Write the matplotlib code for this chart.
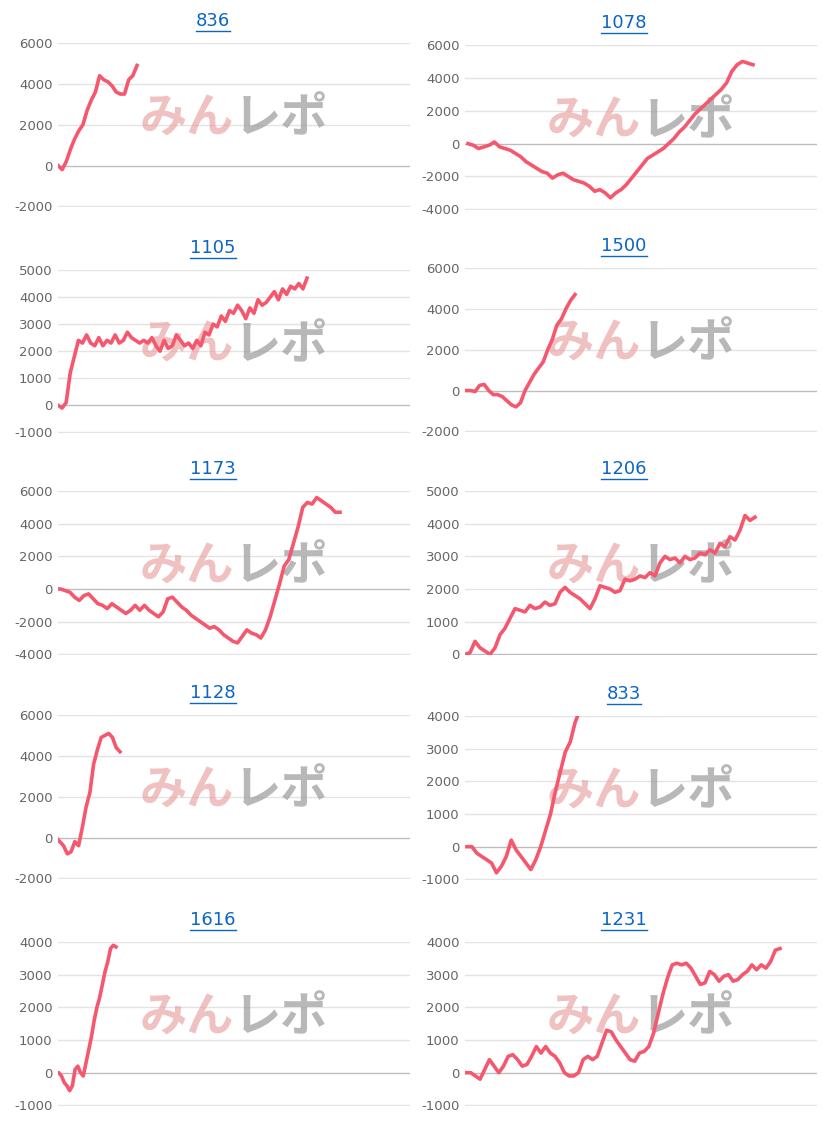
import matplotlib.pyplot as plt

plt.rcParams['font.family'] = ['DejaVu Sans']
plt.rcParams['axes.unicode_minus'] = False

titles = ["836", "1078", "1105", "1500", "1173", "1206", "1128", "833", "1616", "1231"]

s836 = [0, -200, 200, 800, 1300, 1700, 2000, 2700, 3200, 3600, 4400, 4200, 4100, 3900,
        3600, 3500, 3500, 4200, 4400, 4900]
s1078 = [0, -100, -300, -200, -100, 100, -200, -300, -400, -600, -800, -1100, -1300, -1500,
         -1700, -1800, -2100, -1900, -1800, -2000, -2200, -2300, -2400, -2600, -2900, -2800,
         -3000, -3300, -3000, -2800, -2500, -2100, -1700, -1300, -900, -700, -500, -300, 0,
         300, 700, 1000, 1400, 1800, 2100, 2400, 2700, 3000, 3300, 3700, 4400, 4800, 5000,
         4900, 4800]
s1105 = [0, -100, 100, 1200, 1800, 2400, 2300, 2600, 2300, 2200, 2500, 2200, 2400, 2300,
         2600, 2300, 2400, 2700, 2500, 2400, 2300, 2400, 2300, 2500, 2200, 2000, 2400, 2100,
         2200, 2600, 2400, 2200, 2300, 2100, 2400, 2200, 2700, 2600, 3000, 2900, 3300, 3100,
         3500, 3400, 3700, 3500, 3200, 3600, 3400, 3900, 3700, 3800, 4000, 4200, 3900, 4300,
         4100, 4400, 4300, 4500, 4300, 4700]
s1500 = [0, 0, -50, 250, 300, 0, -200, -200, -300, -500, -700, -800, -600, 0, 400, 800,
         1100, 1400, 2000, 2500, 3200, 3500, 4000, 4400, 4700]
s1173 = [0, 0, -100, -200, -500, -700, -400, -300, -600, -900, -1000, -1200, -900, -1100,
         -1300, -1500, -1300, -1000, -1300, -1000, -1300, -1500, -1700, -1400, -600, -500,
         -800, -1100, -1300, -1600, -1800, -2000, -2200, -2400, -2300, -2500, -2800, -3000,
         -3200, -3300, -2900, -2500, -2700, -2800, -3000, -2500, -1700, -700, 300, 1400,
         1800, 2800, 3800, 5000, 5300, 5200, 5600, 5400, 5200, 5000, 4700, 4700]
s1206 = [0, 50, 400, 200, 100, 0, 200, 600, 800, 1100, 1400, 1350, 1300, 1500, 1400, 1450,
         1600, 1500, 1550, 1900, 2050, 1900, 1800, 1700, 1550, 1400, 1700, 2100, 2050, 2000,
         1900, 1950, 2300, 2250, 2300, 2400, 2350, 2500, 2400, 2800, 3000, 2900, 2950, 2800,
         3000, 2900, 2950, 3100, 3050, 3200, 3100, 3400, 3300, 3600, 3500, 3800, 4250, 4100,
         4200]
s1128 = [0, -200, -400, -800, -700, -200, -400, 500, 1500, 2200, 3600, 4300, 4900, 5000,
         5100, 4900, 4400, 4200]
s833 = [0, 0, -200, -300, -400, -500, -800, -600, -300, 200, -100, -300, -500, -700, -400,
        0, 500, 1000, 1700, 2300, 2900, 3200, 3800, 4200]
s1616 = [0, 0, -100, -300, -400, -550, -400, 100, 200, 0, -100, 300, 700, 1100, 1600, 2000,
         2300, 2700, 3100, 3400, 3800, 3900, 3850]
s1231 = [0, 0, -100, -200, 100, 400, 200, 0, 200, 500, 550, 400, 200, 250, 500, 800, 600,
         800, 600, 500, 300, 0, -100, -100, 0, 400, 500, 400, 500, 900, 1300, 1250, 1000,
         800, 600, 400, 350, 600, 650, 800, 1200, 1800, 2400, 2900, 3300, 3350, 3300, 3350,
         3200, 2950, 2700, 2750, 3100, 3000, 2800, 2950, 3000, 2800, 2850, 3000, 3100, 3300,
         3150, 3300, 3200, 3400, 3750, 3800]
series = [s836, s1078, s1105, s1500, s1173, s1206, s1128, s833, s1616, s1231]

# y ranges (min, max, step)
yranges = [(-2000, 6000, 2000), (-4000, 6000, 2000), (-1000, 5000, 1000), (-2000, 6000, 2000),
           (-4000, 6000, 2000), (0, 5000, 1000), (-2000, 6000, 2000), (-1000, 4000, 1000),
           (-1000, 4000, 1000), (-1000, 4000, 1000)]

# layout in pixels: axes top, bottom, line start x, line end x
tops = [43, 45, 270, 268, 491, 491, 715, 716, 942, 942]
bottoms = [207, 210, 433, 432, 655, 655, 879, 880, 1106, 1106]
x_start = [58, 468, 58, 466, 56, 465, 56, 467, 56, 466]
x_end = [137, 753, 307, 575, 340, 755, 120, 580, 116, 780]
title_x = [213, 624]

W, H = 822, 1125
fig = plt.figure(figsize=(W / 100, H / 100), dpi=100)
line_color = '#f5586e'
link = '#0b66c3'

titles_txt = []
for i, (t, s) in enumerate(zip(titles, series)):
    left = 58 if i % 2 == 0 else 465
    width = 352
    ax = fig.add_axes([left / W, 1 - bottoms[i] / H, width / W, (bottoms[i] - tops[i]) / H])
    n = len(s)
    frac_end = (x_end[i] - left) / width
    frac_start = (x_start[i] - left) / width
    xmax = (n - 1) / (frac_end - frac_start)
    ax.set_xlim(-frac_start * xmax, xmax * (1 - frac_start))
    lo, hi, step = yranges[i]
    pad = (hi - lo) * 0.004
    ax.set_ylim(lo - pad, hi)
    ticks = list(range(lo, hi + 1, step))
    ax.set_yticks(ticks)
    ax.set_xticks([])
    for tk in ticks:
        ax.axhline(tk, color='#bdbdbd' if tk == 0 else '#e3e3e3', lw=1, zorder=0)
    for sp in ax.spines.values():
        sp.set_visible(False)
    ax.tick_params(axis='y', length=0, labelsize=9.5, labelcolor='#666666', pad=4)
    ax.plot(range(n), s, color=line_color, lw=2.6, zorder=3)
    # watermark
    ax.text(0.5, 0.54, 'みん', transform=ax.transAxes, fontsize=34, fontweight='bold',
            family=['Noto Sans CJK JP'], color='#e8a0a0', alpha=0.65, ha='right', va='center',
            style='italic', zorder=1)
    ax.text(0.5, 0.54, 'レポ', transform=ax.transAxes, fontsize=34, fontweight='bold',
            family=['Noto Sans CJK JP'], color='#a0a0a0', alpha=0.75, ha='left', va='center',
            style='italic', zorder=1)
    ty = (tops[i] - 22) / H
    titles_txt.append(fig.text(title_x[i % 2] / W, 1 - ty, t, fontsize=13, color=link,
                               ha='center', va='center'))

fig.canvas.draw()
for tt in titles_txt:
    bb = tt.get_window_extent()
    y = (bb.y0 - 1) / H
    fig.add_artist(plt.Line2D([bb.x0 / W, bb.x1 / W], [y, y], color=link, lw=1))

fig.savefig('out.png', dpi=100)
